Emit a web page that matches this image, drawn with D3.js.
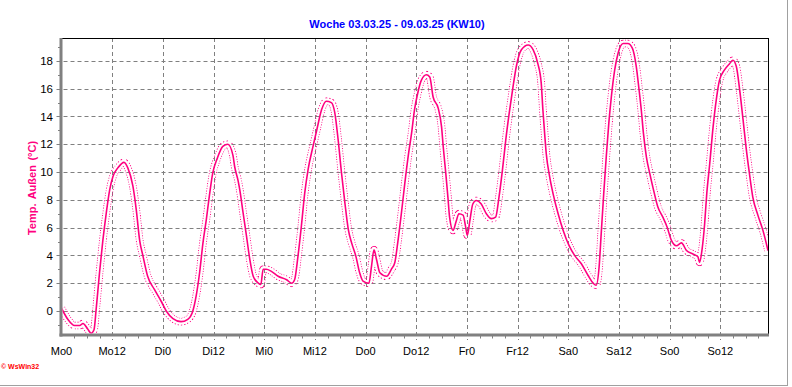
<!DOCTYPE html>
<html>
<head>
<meta charset="utf-8">
<script src="https://cdn.jsdelivr.net/npm/d3@7"></script>
<style>
  html, body { margin: 0; padding: 0; background: #fff; }
  svg { display: block; font-family: "Liberation Sans", Arial, sans-serif; }
</style>
</head>
<body>
<svg id="chart" width="792" height="387"></svg>
<script>
// ---- data ----
const title = "Woche 03.03.25 - 09.03.25 (KW10)";
const yLabel = "Temp. Außen (°C)";
const xTickLabels = ["Mo0","Mo12","Di0","Di12","Mi0","Mi12","Do0","Do12","Fr0","Fr12","Sa0","Sa12","So0","So12"];
const xTickHours = [0,12,24,36,48,60,72,84,96,108,120,132,144,156];
const yTickValues = [0,2,4,6,8,10,12,14,16,18];
const xDomain = [0, 167.3];
const yDomain = [-1.73, 19.65];

// hours since Monday 0:00
const hours = [
  0,1.5,3.1,4.3,5.1,6.2,7.0,7.7,8.2,9.0,9.8,10.6,11.4,12.2,13.35,14.8,15.7,16.9,17.7,18.5,19.3,20.4,22.0,23.6,
  24.8,26.4,28.3,29.9,31.1,31.9,32.7,33.5,34.3,35.0,35.8,36.9,38.2,39.4,40.6,41.0,41.8,42.2,43.0,43.8,44.6,45.4,46.6,47.2,
  47.75,48.5,49.7,51.3,53.3,54.5,55.2,56.0,56.8,57.6,58.4,59.6,60.5,61.6,62.7,63.9,64.7,65.5,66.3,67.1,67.9,68.7,69.7,70.6,71.4,
  72.8,73.4,74.0,74.6,75.4,77.0,78.1,78.9,79.7,80.5,81.3,82.1,82.9,83.6,84.3,85.2,86.4,87.2,88.0,89.2,90.0,90.4,91.0,91.5,91.9,92.7,93.5,94.1,95.1,95.7,
  96.1,96.7,97.4,98.2,99.4,100.6,101.8,102.8,103.6,104.4,105.2,106.0,106.9,107.7,108.9,110.5,111.7,112.8,113.6,114.0,114.4,114.8,115.6,116.4,117.6,118.8,
  120.2,121.5,123.1,124.7,125.9,126.6,127.3,127.8,128.4,129.0,129.6,130.2,131.0,131.8,133.0,134.1,135.2,136.1,136.7,137.3,137.8,138.5,139.3,140.2,141.2,142.4,143.4,
  144.4,145.6,146.8,148.0,149.5,150.7,151.1,151.65,152.3,152.8,153.5,154.3,155.05,155.8,157.0,158.2,159.0,159.8,160.6,161.4,162.1,162.9,163.7,164.9,166.1,167.3
];
const temps = [
  0.2,-0.6,-1.05,-1.05,-0.9,-1.3,-1.6,-1.35,0.1,2.75,5.1,7.05,8.7,9.7,10.3,10.7,10.3,9.0,7.3,5.1,3.95,2.5,1.55,0.7,
  0,-0.55,-0.77,-0.6,0,1.1,2.75,4.9,6.6,8.25,9.9,11.0,11.85,12.0,11.2,10.4,9.4,8.75,7.07,5.4,3.7,2.5,2.0,1.9,
  3.0,3.0,2.85,2.5,2.25,2.0,2.25,3.95,6.1,8.5,10.2,11.9,13.1,14.5,15.1,15.0,14.3,12.35,9.95,7.8,5.9,4.9,3.95,2.75,2.15,
  2.0,3.2,4.4,3.7,2.75,2.5,3.0,3.45,5.1,7.07,9.2,11.15,12.8,14.5,15.6,16.6,17.0,16.85,15.4,14.6,13.25,11.8,9.9,8.2,6.75,5.8,6.5,7.0,6.9,6.05,
  5.45,6.5,7.7,7.95,7.7,7.0,6.65,6.75,8.2,10.1,12.3,14.2,16.1,17.6,18.8,19.15,18.8,17.8,16.4,14.45,12.8,11.3,9.65,8.45,7.0,5.8,
  4.7,4.0,3.4,2.55,2.0,1.85,3.15,5.55,8.45,11.1,13.5,15.4,17.35,18.55,19.25,19.25,18.9,17.6,16.1,14.45,12.8,11.1,9.9,8.7,7.5,6.75,6.05,
  5.1,4.7,4.9,4.35,4.1,3.9,3.5,4.35,6.3,8.45,10.6,13.25,15.2,16.6,17.35,17.8,18.05,17.6,15.9,13.75,11.8,9.9,8.2,6.9,5.8,4.35
];

(function () {
// ---- layout ----
const W = 792, H = 387;
const pL = 61.5, pR = 768, pT = 38, pB = 335;
const pink = "#ff0080";
const gridColor = "#808080";

const svg = d3.select("#chart");
const x = d3.scaleLinear().domain(xDomain).range([pL, pR]);
const y = d3.scaleLinear().domain(yDomain).range([pB, pT]);

// outer frame (window edge)
svg.append("line").attr("x1", 787.5).attr("x2", 787.5).attr("y1", 0).attr("y2", 386)
  .attr("stroke", "#a0a0a0").attr("stroke-width", 1);
svg.append("line").attr("x1", 0).attr("x2", 788).attr("y1", 385.5).attr("y2", 385.5)
  .attr("stroke", "#a0a0a0").attr("stroke-width", 1);

// title
svg.append("text").attr("x", 397).attr("y", 28).attr("text-anchor", "middle")
  .attr("fill", "#0000ff").attr("font-weight", "bold").attr("font-size", "11px").text(title);

// grid lines
const grid = svg.append("g");
grid.selectAll("line.gx").data(xTickHours.filter(h => h > 0)).join("line")
  .attr("x1", d => Math.round(x(d)) + 0.5).attr("x2", d => Math.round(x(d)) + 0.5)
  .attr("y1", pT).attr("y2", pB + 5)
  .attr("stroke", gridColor).attr("stroke-width", 1).attr("stroke-dasharray", "4,3");
grid.selectAll("line.gy").data(yTickValues).join("line")
  .attr("x1", pL - 5).attr("x2", pR)
  .attr("y1", d => Math.round(y(d)) + 0.5).attr("y2", d => Math.round(y(d)) + 0.5)
  .attr("stroke", gridColor).attr("stroke-width", 1).attr("stroke-dasharray", "4,3");

// minor ticks
const xMinor = d3.range(3, xDomain[1], 3).filter(h => h % 12 !== 0);
svg.append("g").selectAll("line").data(xMinor).join("line")
  .attr("x1", d => Math.round(x(d)) + 0.5).attr("x2", d => Math.round(x(d)) + 0.5)
  .attr("y1", pB).attr("y2", pB + 3.5)
  .attr("stroke", gridColor).attr("stroke-width", 1);
const yMinor = d3.range(-1, 20, 1).filter(v => v % 2 !== 0);
svg.append("g").selectAll("line").data(yMinor).join("line")
  .attr("x1", pL - 3.5).attr("x2", pL)
  .attr("y1", d => Math.round(y(d)) + 0.5).attr("y2", d => Math.round(y(d)) + 0.5)
  .attr("stroke", gridColor).attr("stroke-width", 1);

// frame: top/right black, left/bottom gray thick
svg.append("line").attr("x1", pL).attr("x2", pR + 0.5).attr("y1", pT + 0.5).attr("y2", pT + 0.5)
  .attr("stroke", "#000").attr("stroke-width", 1);
svg.append("line").attr("x1", pR + 0.5).attr("x2", pR + 0.5).attr("y1", pT).attr("y2", pB)
  .attr("stroke", "#000").attr("stroke-width", 1);
svg.append("line").attr("x1", pL - 0.5).attr("x2", pL - 0.5).attr("y1", pT).attr("y2", pB + 1.5)
  .attr("stroke", "#808080").attr("stroke-width", 3);
svg.append("line").attr("x1", pL - 2).attr("x2", pR + 1).attr("y1", pB).attr("y2", pB)
  .attr("stroke", "#808080").attr("stroke-width", 3);

// tick labels
svg.append("g").selectAll("text").data(yTickValues).join("text")
  .attr("x", 53).attr("y", d => y(d)).attr("dy", "0.36em")
  .attr("text-anchor", "end").attr("font-size", "11.5px").attr("fill", "#000")
  .text(d => d);
svg.append("g").selectAll("text").data(xTickHours).join("text")
  .attr("x", (d) => x(d)).attr("y", 355)
  .attr("text-anchor", "middle").attr("font-size", "11px").attr("fill", "#000")
  .text((d, i) => xTickLabels[i]);

// y axis label
svg.append("text").attr("transform", "translate(36,188) rotate(-90)")
  .attr("text-anchor", "middle").attr("font-size", "11px").attr("font-weight", "bold")
  .attr("fill", pink).attr("word-spacing", "1.5px").text(yLabel);

// logo
svg.append("text").attr("x", 1).attr("y", 369).attr("font-size", "7px").attr("font-weight", "bold")
  .attr("fill", "#ff0000").text("© WsWin32");

// ---- temperature line with dotted envelope ----
const data = hours.map((h, i) => [h, temps[i]]);
const line = d3.line().x(d => x(d[0])).y(d => y(d[1])).curve(d3.curveMonotoneX);
const pathD = line(data);

const defs = svg.append("defs");
defs.append("clipPath").attr("id", "plotClip").append("rect")
  .attr("x", pL + 1).attr("y", pT + 1).attr("width", pR - pL - 1).attr("height", pB - pT - 2.5);
const mask = defs.append("mask").attr("id", "envMask").attr("maskUnits", "userSpaceOnUse")
  .attr("x", 0).attr("y", 0).attr("width", W).attr("height", H);
mask.append("path").attr("d", pathD).attr("fill", "none").attr("stroke", "#fff")
  .attr("stroke-width", 8).attr("stroke-linejoin", "round");
mask.append("path").attr("d", pathD).attr("fill", "none").attr("stroke", "#000")
  .attr("stroke-width", 6).attr("stroke-linejoin", "round");

const plot = svg.append("g").attr("clip-path", "url(#plotClip)");
plot.append("g").attr("mask", "url(#envMask)").append("path")
  .attr("d", pathD).attr("fill", "none").attr("stroke", pink)
  .attr("stroke-width", 8).attr("stroke-dasharray", "1,1.5");
plot.append("path").attr("d", pathD).attr("fill", "none").attr("stroke", pink)
  .attr("stroke-width", 1.6).attr("stroke-linejoin", "round");
})();
</script>
</body>
</html>
